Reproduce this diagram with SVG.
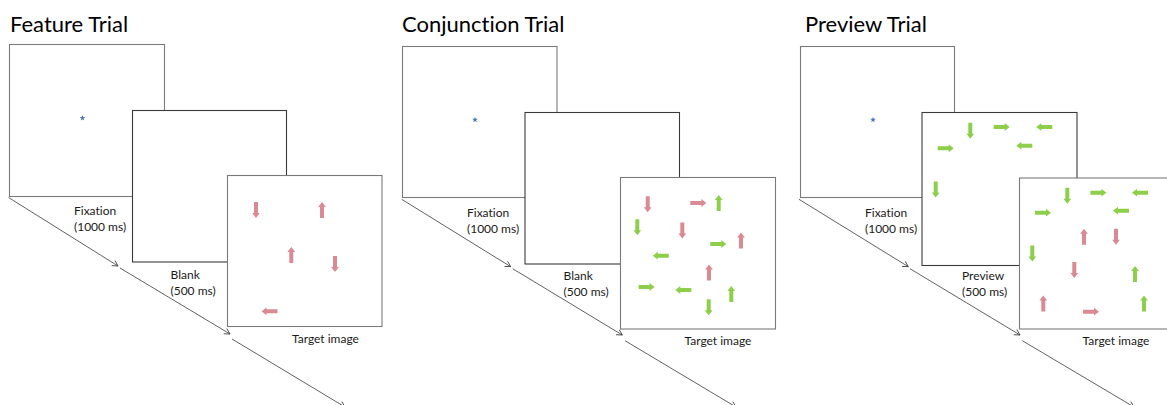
<svg xmlns="http://www.w3.org/2000/svg" xmlns:xlink="http://www.w3.org/1999/xlink" width="1167" height="405" viewBox="0 0 1167 405">
  <style>
    text { font-variant-ligatures: none; }
    .title { font-family: Lato, "Open Sans", "Liberation Sans", sans-serif; font-size: 22px; fill: #000; }
    .lbl { font-family: Lato, "Open Sans", "Liberation Sans", sans-serif; font-size: 12px; fill: #1a1a1a; }
    .scr { fill: #fff; stroke: #7a7a7a; stroke-width: 1.1; }
    .scr-mid { fill: #fff; stroke: #3a3a3a; stroke-width: 1.1; }
    .time { fill: none; stroke: #3a3a3a; stroke-width: 0.8; marker-end: url(#open-head); }
    .pk { fill: #D98A92; }
    .gr { fill: #8DCF4A; }
    .star { fill: #4472C4; }
  </style>
  <defs>
    <!-- block arrow pointing right, centred on origin -->
    <path id="ar" d="M-8,-2 H3 V-3.9 L8,0 L3,3.9 V2 H-8 Z"/>
    <!-- small five-point fixation star -->
    <path id="fix" d="M0,-3 L0.7,-0.95 L2.85,-0.93 L1.13,0.36 L1.76,2.43 L0,1.2 L-1.76,2.43 L-1.13,0.36 L-2.85,-0.93 L-0.7,-0.95 Z"/>
    <marker id="open-head" markerWidth="8" markerHeight="8" refX="6" refY="4" orient="auto" markerUnits="userSpaceOnUse">
      <path d="M0.5,1 L6,4 L0.5,7" fill="none" stroke="#3a3a3a" stroke-width="0.8"/>
    </marker>
  </defs>

  <!-- ================= Feature trial ================= -->
  <text class="title" x="10" y="32">Feature Trial</text>
  <g id="feature-fixation">
    <rect class="scr" x="9.5" y="44.5" width="155" height="152"/>
    <use href="#fix" class="star" transform="translate(82.5,118)"/>
    <text class="lbl" x="74" y="215">Fixation</text>
    <text class="lbl" x="74" y="231">(1000 ms)</text>
  </g>
  <g id="feature-blank">
    <rect class="scr-mid" x="132.5" y="110.5" width="154" height="151.5"/>
    <text class="lbl" x="170.5" y="279">Blank</text>
    <text class="lbl" x="170.5" y="295">(500 ms)</text>
  </g>
  <g id="feature-target">
    <rect class="scr" x="227.5" y="175.5" width="154.5" height="151"/>
    <use href="#ar" class="pk" transform="translate(256,210) rotate(90)"/>
    <use href="#ar" class="pk" transform="translate(322,210) rotate(-90)"/>
    <use href="#ar" class="pk" transform="translate(291.3,255) rotate(-90)"/>
    <use href="#ar" class="pk" transform="translate(335,264) rotate(90)"/>
    <use href="#ar" class="pk" transform="translate(269.5,311.3) rotate(180)"/>
    <text class="lbl" x="292" y="343">Target image</text>
  </g>

  <!-- ================= Conjunction trial ================= -->
  <text class="title" x="402" y="32">Conjunction Trial</text>
  <g id="conjunction-fixation">
    <rect class="scr" x="402.5" y="46.5" width="154.5" height="151"/>
    <use href="#fix" class="star" transform="translate(475,119.7)"/>
    <text class="lbl" x="467" y="217">Fixation</text>
    <text class="lbl" x="467" y="232.5">(1000 ms)</text>
  </g>
  <g id="conjunction-blank">
    <rect class="scr-mid" x="525" y="112.5" width="154.5" height="151.5"/>
    <text class="lbl" x="563.5" y="280">Blank</text>
    <text class="lbl" x="563.5" y="296">(500 ms)</text>
  </g>
  <g id="conjunction-target">
    <rect class="scr" x="620.5" y="177.5" width="155" height="151.5"/>
    <use href="#ar" class="pk" transform="translate(647.7,204.3) rotate(90)"/>
    <use href="#ar" class="pk" transform="translate(698.3,203)"/>
    <use href="#ar" class="gr" transform="translate(718.7,203) rotate(-90)"/>
    <use href="#ar" class="gr" transform="translate(637.3,227.2) rotate(90)"/>
    <use href="#ar" class="pk" transform="translate(682.3,230.6) rotate(90)"/>
    <use href="#ar" class="gr" transform="translate(718.3,244)"/>
    <use href="#ar" class="pk" transform="translate(741,240.6) rotate(-90)"/>
    <use href="#ar" class="gr" transform="translate(660.8,255.7) rotate(180)"/>
    <use href="#ar" class="pk" transform="translate(709,272.5) rotate(-90)"/>
    <use href="#ar" class="gr" transform="translate(646.6,287)"/>
    <use href="#ar" class="gr" transform="translate(683.3,290) rotate(180)"/>
    <use href="#ar" class="gr" transform="translate(731.3,294) rotate(-90)"/>
    <use href="#ar" class="gr" transform="translate(708.7,307.2) rotate(90)"/>
    <text class="lbl" x="684.5" y="345">Target image</text>
  </g>

  <!-- ================= Preview trial ================= -->
  <text class="title" x="805" y="32">Preview Trial</text>
  <g id="preview-fixation">
    <rect class="scr" x="800.5" y="46.5" width="154" height="151"/>
    <use href="#fix" class="star" transform="translate(873,119.7)"/>
    <text class="lbl" x="865" y="217">Fixation</text>
    <text class="lbl" x="865" y="232.5">(1000 ms)</text>
  </g>
  <g id="preview-display">
    <rect class="scr-mid" x="922" y="112.5" width="155" height="153"/>
    <use href="#ar" class="gr" transform="translate(970.3,130.7) rotate(90)"/>
    <use href="#ar" class="gr" transform="translate(1001.7,127)"/>
    <use href="#ar" class="gr" transform="translate(1044.3,127) rotate(180)"/>
    <use href="#ar" class="gr" transform="translate(945.7,148.3)"/>
    <use href="#ar" class="gr" transform="translate(1024.3,145.7) rotate(180)"/>
    <use href="#ar" class="gr" transform="translate(935.7,189.4) rotate(90)"/>
    <text class="lbl" x="962" y="280">Preview</text>
    <text class="lbl" x="962" y="296">(500 ms)</text>
  </g>
  <g id="preview-target">
    <rect class="scr" x="1019.5" y="178" width="160" height="151"/>
    <use href="#ar" class="gr" transform="translate(1067.3,195.7) rotate(90)"/>
    <use href="#ar" class="gr" transform="translate(1098.4,192.7)"/>
    <use href="#ar" class="gr" transform="translate(1140,192.7) rotate(180)"/>
    <use href="#ar" class="gr" transform="translate(1043,212.7)"/>
    <use href="#ar" class="gr" transform="translate(1121,210.7) rotate(180)"/>
    <use href="#ar" class="pk" transform="translate(1084,236.7) rotate(-90)"/>
    <use href="#ar" class="pk" transform="translate(1116,236.7) rotate(90)"/>
    <use href="#ar" class="gr" transform="translate(1032.3,253.4) rotate(90)"/>
    <use href="#ar" class="pk" transform="translate(1074.3,270) rotate(90)"/>
    <use href="#ar" class="gr" transform="translate(1135,274) rotate(-90)"/>
    <use href="#ar" class="pk" transform="translate(1043.3,303.4) rotate(-90)"/>
    <use href="#ar" class="pk" transform="translate(1091,311.7)"/>
    <use href="#ar" class="gr" transform="translate(1144,303.4) rotate(-90)"/>
    <text class="lbl" x="1082.5" y="345">Target image</text>
  </g>

  <!-- timeline arrows running beneath each sequence -->
  <g id="connectors">
    <line class="time" x1="8.5" y1="197.5" x2="118" y2="266"/>
    <line class="time" x1="120" y1="268" x2="230" y2="334"/>
    <line class="time" x1="232" y1="339" x2="345" y2="407"/>

    <line class="time" x1="401.7" y1="199.3" x2="510.7" y2="266.7"/>
    <line class="time" x1="512.7" y1="268.7" x2="622.3" y2="335"/>
    <line class="time" x1="625" y1="340.7" x2="736" y2="407"/>

    <line class="time" x1="799" y1="199.3" x2="908.3" y2="266.7"/>
    <line class="time" x1="910" y1="268.7" x2="1020" y2="335"/>
    <line class="time" x1="1022.3" y1="340.7" x2="1134" y2="407"/>
  </g>
</svg>
